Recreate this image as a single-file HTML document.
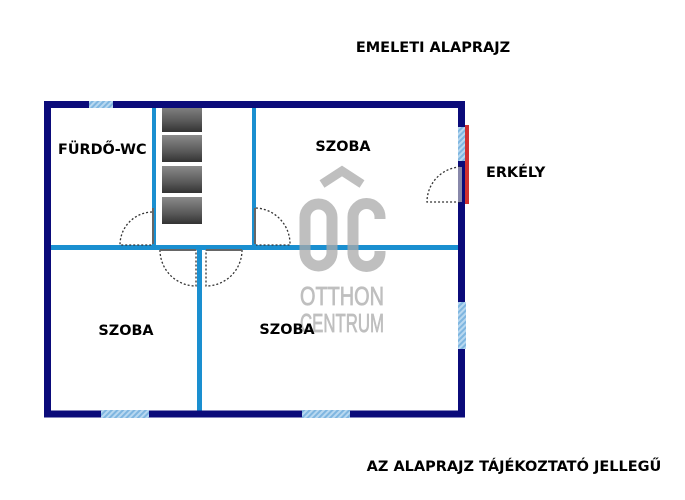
<!DOCTYPE html>
<html><head><meta charset="utf-8"><style>
html,body{margin:0;padding:0;background:#fff;}
svg{display:block;font-family:"DejaVu Sans","Liberation Sans",sans-serif;}
</style></head><body>
<svg width="685" height="500" viewBox="0 0 685 500" xmlns="http://www.w3.org/2000/svg">
<defs>
<pattern id="h" width="4" height="4" patternUnits="userSpaceOnUse" patternTransform="rotate(45)">
<rect width="4" height="4" fill="#b8d8f0"/><rect width="2" height="4" fill="#7fb6e0"/>
</pattern>
<linearGradient id="g" x1="0" y1="0" x2="0" y2="1">
<stop offset="0" stop-color="#8a8a8a"/><stop offset="0.6" stop-color="#5a5a5a"/><stop offset="1" stop-color="#333"/>
</linearGradient>
</defs>
<text x="433" y="52" font-size="14.5" font-weight="bold" text-anchor="middle">EMELETI ALAPRAJZ</text>
<text x="514" y="471" font-size="14.5" font-weight="bold" text-anchor="middle">AZ ALAPRAJZ TÁJÉKOZTATÓ JELLEGŰ</text>
<rect x="162" y="104" width="40" height="28" fill="url(#g)"/>
<rect x="162" y="135" width="40" height="27" fill="url(#g)"/>
<rect x="162" y="166" width="40" height="27" fill="url(#g)"/>
<rect x="162" y="197" width="40" height="27" fill="url(#g)"/>
<g fill="#1a8fd0">
<rect x="152" y="106" width="4" height="143"/>
<rect x="252" y="106" width="4" height="143"/>
<rect x="49" y="245" width="411" height="5"/>
<rect x="197" y="248" width="5" height="164"/>
</g>
<rect x="47.5" y="104.5" width="414" height="309.5" fill="none" stroke="#0b0b7a" stroke-width="7"/>
<rect x="89" y="101" width="24" height="7" fill="url(#h)"/>
<rect x="101" y="410" width="48" height="8" fill="url(#h)"/>
<rect x="302" y="410" width="48" height="8" fill="url(#h)"/>
<rect x="458" y="127" width="8" height="34" fill="url(#h)"/>
<rect x="458" y="302" width="8" height="47" fill="url(#h)"/>
<rect x="465" y="125" width="4" height="79" fill="#d03030"/>
<g fill="none" stroke="#333" stroke-width="1.3" stroke-dasharray="2,2">
<path d="M152 212 A33 33 0 0 0 120 245 L152 245"/>
<path d="M256 208 A36 36 0 0 1 290 245 L256 245"/>
<path d="M160 250 A36 36 0 0 0 196 286 L196 250"/>
<path d="M242 250 A36 36 0 0 1 206 286 L206 250"/>
<path d="M460 167 A35 35 0 0 0 427 202 L460 202"/>
</g>
<g stroke="#666" stroke-width="2">
<line x1="153" y1="208" x2="153" y2="244"/>
<line x1="255" y1="208" x2="255" y2="244"/>
<line x1="160" y1="250" x2="196" y2="250"/>
<line x1="206" y1="250" x2="242" y2="250"/>
<line x1="460" y1="167" x2="460" y2="202" stroke="#8888aa" stroke-width="4"/>
</g>
<g opacity="0.75">
<path d="M322 184 L342 171 L362 184" fill="none" stroke="#aaa" stroke-width="9"/>
<rect x="305" y="204" width="27" height="62" rx="13.5" fill="none" stroke="#aaa" stroke-width="11"/>
<path d="M380 219 L380 217 A13.5 13.5 0 0 0 353 217 L353 253 A13.5 13.5 0 0 0 380 253 L380 251" fill="none" stroke="#aaa" stroke-width="11"/>
<text x="342" y="305" font-size="26" fill="#aaa" stroke="#aaa" stroke-width="0.8" text-anchor="middle" font-family="Liberation Sans Narrow,Liberation Sans,sans-serif" textLength="84" lengthAdjust="spacingAndGlyphs">OTTHON</text>
<text x="342" y="332" font-size="26" fill="#aaa" stroke="#aaa" stroke-width="0.8" text-anchor="middle" font-family="Liberation Sans Narrow,Liberation Sans,sans-serif" textLength="84" lengthAdjust="spacingAndGlyphs">CENTRUM</text>
</g>
<g font-size="14.4" font-weight="bold">
<text x="58" y="154">FÜRDŐ-WC</text>
<text x="343" y="151" text-anchor="middle">SZOBA</text>
<text x="486" y="177">ERKÉLY</text>
<text x="126" y="335" text-anchor="middle">SZOBA</text>
<text x="287" y="334" text-anchor="middle">SZOBA</text>
</g>
</svg>
</body></html>
